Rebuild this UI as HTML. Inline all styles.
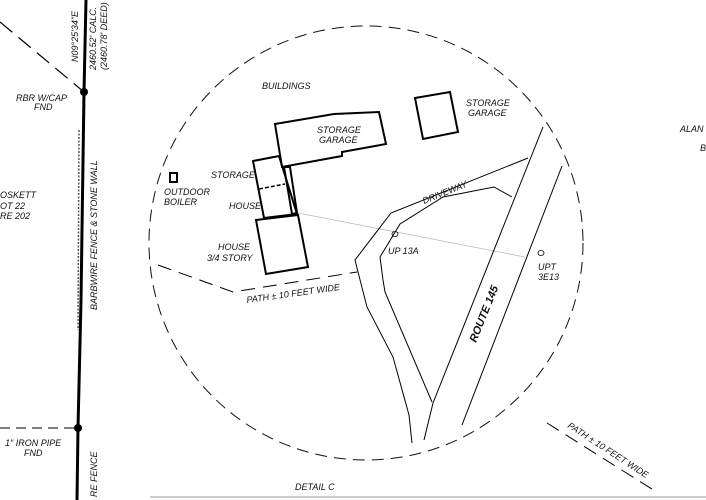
<!DOCTYPE html>
<html><head><style>body{margin:0;background:#fff}svg{display:block}text{font-family:"Liberation Sans",sans-serif;font-style:italic;font-size:9px;fill:#111}</style></head><body>
<svg width="706" height="500" viewBox="0 0 706 500" xmlns="http://www.w3.org/2000/svg">
<rect x="0" y="0" width="706" height="500" fill="#fff"/>
<circle cx="366" cy="243" r="217" fill="none" stroke="#111" stroke-width="1" stroke-dasharray="12,7"/>
<!-- property line -->
<polyline points="86,0 84,92 81,300 78,428 77,500" fill="none" stroke="#000" stroke-width="3"/>
<line x1="79" y1="130" x2="78" y2="330" stroke="#555" stroke-width="1.5" stroke-dasharray="2,1.5"/>
<circle cx="84" cy="92" r="4" fill="#000"/>
<circle cx="78" cy="428" r="4" fill="#000"/>
<line x1="0" y1="22" x2="84" y2="92" stroke="#000" stroke-width="1.2" stroke-dasharray="16,8"/>
<line x1="0" y1="428" x2="78" y2="428" stroke="#000" stroke-width="1" stroke-dasharray="10,6"/>
<text transform="translate(78,62) rotate(-90)">N09°25'34"E</text>
<text transform="translate(96,70) rotate(-90)">2460.52' CALC.</text>
<text transform="translate(107,70) rotate(-90)">(2460.78' DEED)</text>
<text x="16" y="101">RBR W/CAP</text><text x="34" y="110">FND</text>
<text x="0" y="198">OSKETT</text><text x="0" y="209">OT 22</text><text x="0" y="219">RE 202</text>
<text transform="translate(97,310) rotate(-90)">BARBWIRE FENCE &amp; STONE WALL</text>
<text transform="translate(97,497) rotate(-90)">RE FENCE</text>
<text x="5" y="446">1" IRON PIPE</text><text x="24" y="456">FND</text>
<!-- buildings -->
<g fill="none" stroke="#000" stroke-width="2">
<polygon points="275,124 334,114 379,112 386,144 342,152 342,156 282,167"/>
<polygon points="253,161 279,156 297,214 264,218"/>
<polygon points="284,167 290,167 297,213 292,214"/>
<polygon points="256,220 298,215 308,267 266,274"/>
<polygon points="415,98 450,92 458,132 423,139"/>
<rect x="170" y="173" width="7" height="9"/>
</g>
<line x1="259" y1="189" x2="285" y2="184" stroke="#000" stroke-width="1.5" stroke-dasharray="4,2"/>
<line x1="298" y1="213" x2="525" y2="257" stroke="#bbb" stroke-width="0.8"/>
<text x="262" y="89">BUILDINGS</text>
<text x="317" y="133">STORAGE</text><text x="319" y="143">GARAGE</text>
<text x="466" y="106">STORAGE</text><text x="468" y="116">GARAGE</text>
<text x="211" y="178">STORAGE</text>
<text x="229" y="209">HOUSE</text>
<text x="218" y="250">HOUSE</text><text x="207" y="261">3/4 STORY</text>
<text x="164" y="195">OUTDOOR</text><text x="164" y="205">BOILER</text>
<!-- driveway -->
<g fill="none" stroke="#000" stroke-width="1">
<polyline points="528,158 391,213 355,260 358,272 367,307 393,357 409,415 412,443"/>
<polyline points="512,197 494,187 443,197 400,224 380,257 383,280 385,292 432,402"/>
<polyline points="543,127 433,403 424,440"/>
<line x1="562" y1="166" x2="462" y2="425"/>
</g>
<text transform="translate(424,204) rotate(-22)">DRIVEWAY</text>
<text transform="translate(476,343) rotate(-68)" style="font-weight:bold;font-size:11px">ROUTE 145</text>
<text x="388" y="254">UP 13A</text>
<text x="538" y="270">UPT</text><text x="538" y="280">3E13</text>
<ellipse cx="395" cy="234" rx="3" ry="2.5" fill="none" stroke="#000" stroke-width="0.8"/>
<ellipse cx="541" cy="253" rx="3" ry="2.5" fill="none" stroke="#000" stroke-width="0.8"/>
<!-- paths -->
<polyline points="158,265 233,292 357,272" fill="none" stroke="#000" stroke-width="1" stroke-dasharray="14,8"/>
<text transform="translate(247,303) rotate(-8)">PATH ± 10 FEET WIDE</text>
<line x1="547" y1="423" x2="655" y2="491" stroke="#000" stroke-width="1" stroke-dasharray="14,8"/>
<text transform="translate(567,427) rotate(33)">PATH ± 10 FEET WIDE</text>
<text x="680" y="132">ALAN</text><text x="700" y="151">B</text>
<text x="295" y="490">DETAIL C</text>
<line x1="150" y1="497" x2="706" y2="497" stroke="#ccc" stroke-width="2"/>
</svg>
</body></html>
